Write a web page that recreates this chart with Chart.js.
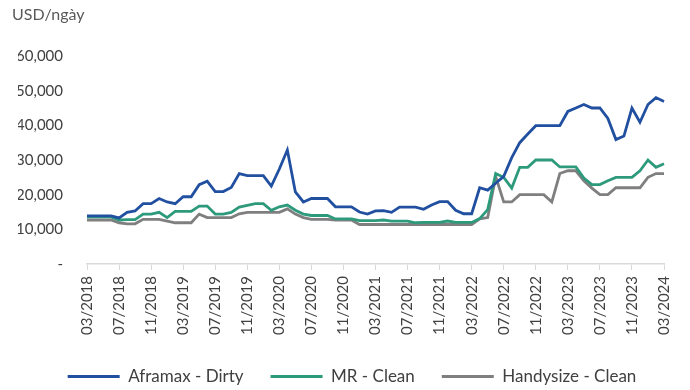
<!DOCTYPE html>
<html>
<head>
<meta charset="utf-8">
<script src="https://cdn.jsdelivr.net/npm/chart.js@4"></script>
<style>
    body { margin: 0; background: #fff; }
    #wrap { position: relative; width: 690px; height: 390px; }
    #unit { position: absolute; left: 12px; top: 4px; font: 16px Lato, sans-serif; color: #595959; }
</style>
</head>
<body>
<div id="wrap">
    <div id="unit">USD/ngày</div>
    <canvas id="rateChart"></canvas>
</div>
<script>
// monthly rates, 03/2018 - 03/2024
const months = [
    '03/2018', '04/2018', '05/2018', '06/2018', '07/2018', '08/2018', '09/2018', '10/2018', '11/2018', '12/2018',
    '01/2019', '02/2019', '03/2019', '04/2019', '05/2019', '06/2019', '07/2019', '08/2019', '09/2019', '10/2019', '11/2019', '12/2019',
    '01/2020', '02/2020', '03/2020', '04/2020', '05/2020', '06/2020', '07/2020', '08/2020', '09/2020', '10/2020', '11/2020', '12/2020',
    '01/2021', '02/2021', '03/2021', '04/2021', '05/2021', '06/2021', '07/2021', '08/2021', '09/2021', '10/2021', '11/2021', '12/2021',
    '01/2022', '02/2022', '03/2022', '04/2022', '05/2022', '06/2022', '07/2022', '08/2022', '09/2022', '10/2022', '11/2022', '12/2022',
    '01/2023', '02/2023', '03/2023', '04/2023', '05/2023', '06/2023', '07/2023', '08/2023', '09/2023', '10/2023', '11/2023', '12/2023',
    '01/2024', '02/2024', '03/2024'
];

const aframax = [
    13900, 13900, 13900, 13900, 13300, 14900, 15300, 17400, 17400, 18900,
    17900, 17400, 19400, 19400, 22900, 23900, 20900, 20900, 22100, 26100,
    25500, 25500, 25500, 22500, 27400, 32900, 20800, 17900, 18900, 18900,
    18900, 16500, 16500, 16500, 15000, 14400, 15300, 15400, 14900, 16400,
    16400, 16400, 15800, 17000, 18000, 18000, 15500, 14500, 14500, 22000,
    21300, 23300, 25300, 30700, 35000, 37500, 39900, 39900, 39900, 39900,
    44000, 45000, 46000, 45000, 45000, 42000, 35900, 36900, 45000, 40900,
    46000, 48000, 46900
];

const mrClean = [
    13600, 13600, 13600, 13600, 12700, 12800, 12800, 14400, 14400, 14900,
    13400, 15200, 15200, 15200, 16700, 16700, 14400, 14400, 14900, 16400,
    16900, 17400, 17400, 15500, 16500, 17000, 15500, 14400, 14000, 14000,
    14000, 13000, 13000, 13000, 12500, 12500, 12500, 12700, 12400, 12400,
    12400, 11900, 12000, 12000, 12000, 12400, 12000, 12000, 12000, 13100,
    15700, 26100, 25000, 21900, 27900, 27900, 30000, 30000, 30000, 28000,
    28000, 28000, 24800, 22900, 22900, 24000, 25000, 25000, 25000, 26900,
    30000, 27900, 28900
];

const handysize = [
    12700, 12700, 12700, 12700, 11900, 11600, 11600, 12900, 12900, 12900,
    12400, 11900, 11900, 11900, 14400, 13400, 13400, 13400, 13400, 14500,
    14900, 14900, 14900, 14900, 14900, 15900, 14400, 13400, 12900, 12900,
    12900, 12700, 12700, 12700, 11400, 11400, 11400, 11400, 11400, 11400,
    11400, 11400, 11400, 11400, 11400, 11400, 11400, 11400, 11400, 13000,
    13400, 25200, 17900, 17900, 20000, 20000, 20000, 20000, 17900, 26100,
    26900, 26900, 24000, 21900, 20000, 20000, 22000, 22000, 22000, 22000,
    25000, 26100, 26100
];

const seriesNames = ['Aframax - Dirty', 'MR - Clean', 'Handysize - Clean'];
const seriesColors = ['#2150a0', '#2e9a7c', '#7f7f7f'];

const font = 'Lato, sans-serif';
const textColor = '#404040';

function makeLine(name, values, color) {
    return {
        label: name,
        data: values,
        borderColor: color,
        backgroundColor: color,
        borderWidth: 2.8,
        pointRadius: 0,
        tension: 0
    };
}

function formatTick(v) {
    // excel accounting style: zero shown as a dash
    if (v === 0) return '-';
    return v.toLocaleString('en-US');
}

const ctx = document.getElementById('rateChart').getContext('2d');
new Chart(ctx, {
    type: 'line',
    data: {
        labels: months,
        datasets: [
            makeLine(seriesNames[0], aframax, seriesColors[0]),
            makeLine(seriesNames[1], mrClean, seriesColors[1]),
            makeLine(seriesNames[2], handysize, seriesColors[2])
        ]
    },
    options: {
        responsive: true,
        maintainAspectRatio: false,
        animation: false,
        layout: { padding: { top: 56, right: 4, left: 18, bottom: -5 } },
        plugins: {
            legend: {
                position: 'bottom',
                labels: {
                    usePointStyle: true,
                    pointStyle: 'line',
                    pointStyleWidth: 52,
                    padding: 27,
                    color: textColor,
                    font: { family: font, size: 17 }
                }
            },
            tooltip: { enabled: false }
        },
        scales: {
            x: {
                offset: false,
                border: { color: '#d9d9d9', width: 1.5 },
                grid: {
                    drawOnChartArea: false,
                    tickLength: 6,
                    // only the labelled months get a tick mark
                    color: (c) => (c.index % 4 === 0 ? '#d9d9d9' : 'rgba(0,0,0,0)')
                },
                ticks: {
                    autoSkip: false,
                    maxRotation: 90,
                    minRotation: 90,
                    padding: 6,
                    color: textColor,
                    font: { family: font, size: 15 },
                    callback: function (val, i) { return i % 4 === 0 ? months[i] : ''; }
                }
            },
            y: {
                min: 0,
                max: 60000,
                afterFit: (axis) => { axis.width = 69; },
                border: { display: false },
                grid: { display: false },
                ticks: {
                    stepSize: 10000,
                    padding: 16,
                    color: textColor,
                    font: { family: font, size: 15 },
                    callback: formatTick
                }
            },
            // empty right-hand axis, only keeps the plot edge where the original has it
            yRight: {
                position: 'right',
                min: 0,
                max: 60000,
                afterFit: (axis) => { axis.width = 22; },
                border: { display: false },
                grid: { display: false },
                ticks: { display: false }
            }
        }
    }
});
</script>
</body>
</html>
